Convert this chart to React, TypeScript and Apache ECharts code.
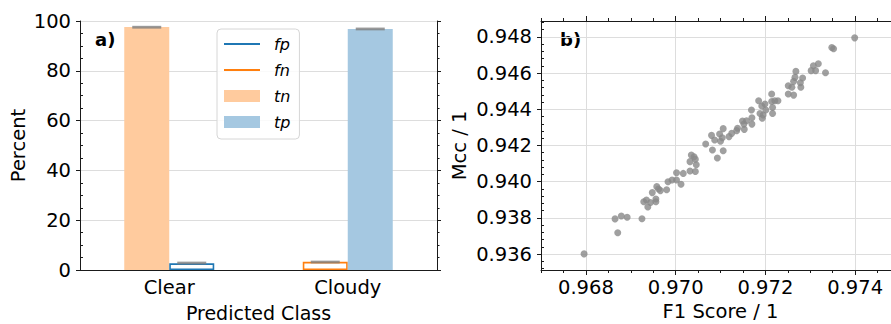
import React, { useEffect, useRef } from "react";
import * as echarts from "echarts";

// ---- Panel a) data ----
const classes = ["Clear", "Cloudy"];
const tnValues = [97.6, null];
const fnValues = [null, 3.3];
const fpValues = [2.7, null];
const tpValues = [null, 96.8];
const leftSlotMarks = [97.5, 3.2];
const rightSlotMarks = [2.8, 96.8];

// ---- Panel b) data ----
const f1Scores = [
  0.96796, 0.96865, 0.96879, 0.96892, 0.96871, 0.96925, 0.96929, 0.96935, 0.96938, 0.96944,
  0.96948, 0.96956, 0.96956, 0.96958, 0.96962, 0.96966, 0.9698, 0.96983, 0.96992, 0.97002,
  0.97002, 0.97012, 0.97017, 0.97032, 0.97035, 0.97041, 0.97044, 0.97046, 0.97032, 0.97044,
  0.97067, 0.9708, 0.97082, 0.97087, 0.97093, 0.97098, 0.971, 0.97104, 0.97106, 0.97106,
  0.97119, 0.97125, 0.97136, 0.97138, 0.97149, 0.97152, 0.97153, 0.97158, 0.97169, 0.9717,
  0.9717, 0.97185, 0.97188, 0.97192, 0.97193, 0.97195, 0.97199, 0.97201, 0.97214, 0.97214,
  0.97216, 0.97216, 0.97221, 0.97228, 0.97251, 0.97251, 0.97259, 0.97263, 0.97263, 0.97266,
  0.97268, 0.97278, 0.97279, 0.97283, 0.97302, 0.97307, 0.97312, 0.97318, 0.97334, 0.97348,
  0.97352, 0.97399,
];
const mccScores = [
  0.93602, 0.93795, 0.93811, 0.93804, 0.93719, 0.93796, 0.9389, 0.93899, 0.93861, 0.93885,
  0.9394, 0.93905, 0.9389, 0.93973, 0.9396, 0.93951, 0.93956, 0.94, 0.9401, 0.9405,
  0.9401, 0.93986, 0.94046, 0.94111, 0.94147, 0.94138, 0.94124, 0.94094, 0.94059, 0.94057,
  0.94208, 0.94256, 0.94175, 0.9423, 0.94131, 0.94263, 0.94223, 0.94243, 0.94293, 0.94171,
  0.94249, 0.94267, 0.94282, 0.94295, 0.94335, 0.94318, 0.94289, 0.94337, 0.94396, 0.94353,
  0.94318, 0.94447, 0.94377, 0.94418, 0.9435, 0.94368, 0.94429, 0.94396, 0.94484, 0.94443,
  0.9441, 0.94377, 0.94447, 0.94447, 0.9453, 0.94484, 0.94521, 0.94554, 0.94478, 0.94576,
  0.94609, 0.94546, 0.94521, 0.94572, 0.94613, 0.9464, 0.94613, 0.94651, 0.94601, 0.94741,
  0.94734, 0.94794,
];

// ---- Tick labels ----
const percentMin = 0;
const percentMax = 100;
const percentStep = 20;
const f1Min = 0.967;
const f1Max = 0.975;
const f1Ticks = [0.968, 0.97, 0.972, 0.974];
const mccMin = 0.93513;
const mccMax = 0.94887;
const mccTicks = [0.936, 0.938, 0.94, 0.942, 0.944, 0.946, 0.948];

const minorBetween = (majors: number[], step: number, lo: number, hi: number) => {
  const out: number[] = [];
  const base = majors[0];
  for (let k = -100; k <= 100; k++) {
    const v = Number((base + k * step).toFixed(6));
    if (v < lo - 1e-9 || v > hi + 1e-9) continue;
    if (majors.some((m) => Math.abs(m - v) < 1e-7)) continue;
    out.push(v);
  }
  return out;
};
const f1Minor = minorBetween(f1Ticks, 0.0005, f1Min, f1Max);
const mccMinor = minorBetween(mccTicks, 0.0004, mccMin, mccMax);

const FONT = "DejaVu Sans";
const SPINE = "#1a1a1a";
const GRIDC = "#dddddd";

export default function App() {
  const ref = useRef<HTMLDivElement>(null);
  useEffect(() => {
    if (!ref.current) return;
    const chart = echarts.init(ref.current, undefined, { renderer: "svg" });
    const lineStyle = { color: SPINE, width: 1 };
    const option: any = {
      animation: false,
      backgroundColor: "#ffffff",
      textStyle: { fontFamily: FONT, color: "#000" },
      grid: [
        { left: 80, top: 21, width: 357, height: 249, outerBoundsMode: "none", containLabel: false },
        { left: 541, top: 21, width: 359, height: 249, outerBoundsMode: "none", containLabel: false },
      ],
      xAxis: [
        {
          type: "category",
          gridIndex: 0,
          position: "bottom",
          data: classes,
          axisLine: { lineStyle },
          axisTick: { alignWithLabel: true, length: 5, lineStyle },
          axisLabel: { fontSize: 19.5, margin: 7, color: "#000", fontFamily: FONT },
          name: "Predicted Class",
          nameLocation: "middle",
          nameGap: 34,
          nameTextStyle: { fontSize: 19, lineHeight: 17, color: "#000", fontFamily: FONT },
        },
        {
          type: "category",
          gridIndex: 0,
          position: "top",
          data: classes,
          axisLine: { lineStyle },
          axisTick: { alignWithLabel: true, length: 5, lineStyle },
          axisLabel: { show: false },
        },
        {
          type: "value",
          gridIndex: 1,
          position: "bottom",
          min: f1Min,
          max: f1Max,
          splitNumber: 4,
          axisLine: { lineStyle },
          axisTick: { customValues: f1Ticks, length: 5, lineStyle },
          axisLabel: {
            customValues: f1Ticks,
            fontSize: 19.5,
            margin: 7,
            color: "#000",
            fontFamily: FONT,
            formatter: (v: number) => v.toFixed(3),
          },
          splitLine: { show: true, lineStyle: { color: GRIDC, width: 1 } },
          name: "F1 Score / 1",
          nameLocation: "middle",
          nameGap: 27,
          nameTextStyle: { fontSize: 19.5, color: "#000", fontFamily: FONT },
        },
        {
          type: "value",
          gridIndex: 1,
          position: "bottom",
          min: f1Min,
          max: f1Max,
          axisLine: { show: false },
          axisTick: { customValues: f1Minor, length: 3, lineStyle },
          axisLabel: { show: false },
          splitLine: { show: false },
        },
        {
          type: "value",
          gridIndex: 1,
          position: "top",
          min: f1Min,
          max: f1Max,
          axisLine: { lineStyle },
          axisTick: { customValues: f1Ticks, length: 5, lineStyle },
          axisLabel: { show: false },
          splitLine: { show: false },
        },
        {
          type: "value",
          gridIndex: 1,
          position: "top",
          min: f1Min,
          max: f1Max,
          axisLine: { show: false },
          axisTick: { customValues: f1Minor, length: 3, lineStyle },
          axisLabel: { show: false },
          splitLine: { show: false },
        },
      ],
      yAxis: [
        {
          type: "value",
          gridIndex: 0,
          position: "left",
          min: percentMin,
          max: percentMax,
          interval: percentStep,
          axisLine: { show: true, lineStyle },
          axisTick: { show: true, length: 4, lineStyle },
          axisLabel: { fontSize: 19.5, margin: 9, color: "#000", fontFamily: FONT },
          splitLine: { show: true, lineStyle: { color: GRIDC, width: 1 } },
          name: "Percent",
          nameLocation: "middle",
          nameGap: 52,
          nameTextStyle: { fontSize: 19.5, color: "#000", fontFamily: FONT },
        },
        {
          type: "value",
          gridIndex: 0,
          position: "left",
          min: percentMin,
          max: percentMax,
          interval: percentStep,
          axisLine: { show: false },
          axisTick: { show: false, inside: true },
          minorTick: { show: true, splitNumber: 4, length: 3, lineStyle: { color: SPINE } },
          axisLabel: { show: false },
          splitLine: { show: false },
        },
        {
          type: "value",
          gridIndex: 0,
          position: "right",
          min: percentMin,
          max: percentMax,
          interval: percentStep,
          axisLine: { show: true, lineStyle },
          axisTick: { show: true, length: 4, lineStyle },
          minorTick: { show: true, splitNumber: 4, length: 2.5, lineStyle: { color: SPINE } },
          axisLabel: { show: false },
          splitLine: { show: false },
        },
        {
          type: "value",
          gridIndex: 1,
          position: "left",
          min: mccMin,
          max: mccMax,
          splitNumber: 7,
          axisLine: { show: true, lineStyle },
          axisTick: { show: true, customValues: mccTicks, length: 4, lineStyle },
          axisLabel: {
            customValues: mccTicks,
            fontSize: 19.5,
            margin: 9,
            color: "#000",
            fontFamily: FONT,
            formatter: (v: number) => v.toFixed(3),
          },
          splitLine: { show: true, lineStyle: { color: GRIDC, width: 1 } },
          name: "Mcc / 1",
          nameLocation: "middle",
          nameGap: 72,
          nameTextStyle: { fontSize: 19.5, color: "#000", fontFamily: FONT },
        },
        {
          type: "value",
          gridIndex: 1,
          position: "left",
          min: mccMin,
          max: mccMax,
          axisLine: { show: false },
          axisTick: { show: true, inside: true, customValues: mccMinor, length: 3, lineStyle },
          axisLabel: { show: false },
          splitLine: { show: false },
        },
      ],
      legend: {
        orient: "vertical",
        left: 217,
        top: 29,
        itemWidth: 36,
        itemHeight: 12,
        itemGap: 10,
        padding: [7, 9, 9, 7],
        backgroundColor: "rgba(255,255,255,0.85)",
        borderColor: "#d6d6d6",
        borderWidth: 1,
        borderRadius: 4,
        selectedMode: false,
        textStyle: {
          fontFamily: FONT,
          fontStyle: "italic",
          fontSize: 16,
          color: "#000",
          padding: [0, 0, 0, 9],
        },
        data: [
          {
            name: "fp",
            icon: "path://M0,0H36V2H0Z",
            itemStyle: { color: "#1f77b4", borderWidth: 0 },
          },
          {
            name: "fn",
            icon: "path://M0,0H36V2H0Z",
            itemStyle: { color: "#ff7f0e", borderWidth: 0 },
          },
          { name: "tn", icon: "rect" },
          { name: "tp", icon: "rect" },
        ],
      },
      graphic: [
        {
          type: "text",
          left: 95,
          top: 30,
          style: { text: "a)", fontSize: 18, fontWeight: "bold", fontFamily: FONT, fill: "#000" },
        },
        {
          type: "text",
          left: 560,
          top: 30,
          style: { text: "b)", fontSize: 18, fontWeight: "bold", fontFamily: FONT, fill: "#000" },
        },
      ],
      series: [
        {
          name: "tn",
          type: "bar",
          xAxisIndex: 0,
          yAxisIndex: 0,
          stack: "L",
          barWidth: 45,
          barGap: "0%",
          data: tnValues,
          itemStyle: { color: "#ffcb9e" },
        },
        {
          name: "fn",
          type: "bar",
          xAxisIndex: 0,
          yAxisIndex: 0,
          stack: "L",
          barWidth: 45,
          barGap: "0%",
          data: fnValues,
          itemStyle: { color: "rgba(0,0,0,0)", borderColor: "#ff7f0e", borderWidth: 1.6 },
        },
        {
          name: "fp",
          type: "bar",
          xAxisIndex: 0,
          yAxisIndex: 0,
          stack: "R",
          barWidth: 45,
          barGap: "0%",
          data: fpValues,
          itemStyle: { color: "rgba(0,0,0,0)", borderColor: "#1f77b4", borderWidth: 1.6 },
        },
        {
          name: "tp",
          type: "bar",
          xAxisIndex: 0,
          yAxisIndex: 0,
          stack: "R",
          barWidth: 45,
          barGap: "0%",
          data: tpValues,
          itemStyle: { color: "#a5c8e1" },
        },
        {
          name: "markL",
          type: "scatter",
          xAxisIndex: 0,
          yAxisIndex: 0,
          data: leftSlotMarks,
          symbol: "rect",
          symbolSize: [29, 2.8],
          symbolOffset: [-22.5, 0],
          itemStyle: { color: "#7f7f7f" },
          z: 5,
        },
        {
          name: "markR",
          type: "scatter",
          xAxisIndex: 0,
          yAxisIndex: 0,
          data: rightSlotMarks,
          symbol: "rect",
          symbolSize: [29, 2.8],
          symbolOffset: [22.5, 0],
          itemStyle: { color: "#7f7f7f" },
          z: 5,
        },
        {
          name: "runs",
          type: "scatter",
          xAxisIndex: 2,
          yAxisIndex: 3,
          data: f1Scores.map((f, i) => [f, mccScores[i]]),
          symbol: "circle",
          symbolSize: 7,
          itemStyle: { color: "#888888" },
        },
      ],
    };
    chart.setOption(option);
    return () => chart.dispose();
  }, []);
  return (
    <div
      ref={ref}
      style={{ position: "fixed", left: 0, top: 0, width: 891, height: 324, background: "#fff" }}
    />
  );
}
